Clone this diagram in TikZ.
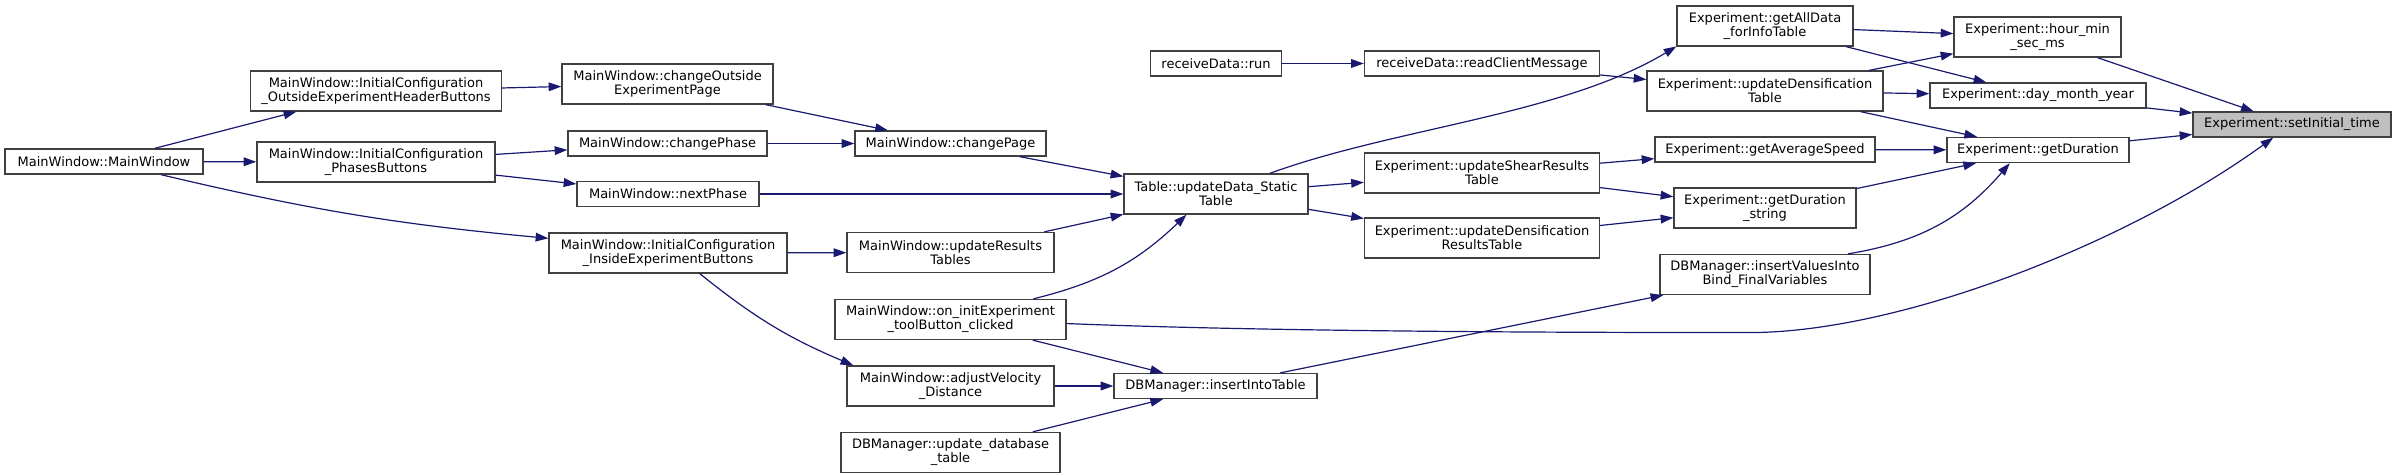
\documentclass[tikz,border=0pt]{standalone}
\usepackage{fontspec}
\setmainfont{DejaVu Sans}
\usetikzlibrary{arrows.meta}
\definecolor{EdgeBlue}{HTML}{191970}
\definecolor{BoxGray} {HTML}{404040}
\definecolor{HereGray}{HTML}{BFBFBF}
\newcommand{\callfont}{\fontsize{9.75}{10.5}\selectfont}
\tikzset{
  fn/.style={rectangle,draw=BoxGray,fill=white,line width=1pt,font=\callfont,
             minimum height=18.75pt,inner sep=1pt,align=center},
  fnb/.style={fn,minimum height=30pt},
  here/.style={fn,fill=HereGray},
  barr/.style={-{Triangle[length=9.5pt,width=6.5pt]},line width=0.9pt,color=EdgeBlue},
}
\begin{document}
\begin{tikzpicture}[x=0.75pt,y=0.75pt]
  \useasboundingbox (0,0) rectangle (2397,-475);

  % rank 1-3 : MainWindow
  \node[fn,minimum width=148.5pt]   (MW)    at (104,-161.5) {MainWindow::MainWindow};
  \node[fnb,minimum width=188.25pt] (ICOUT) at (376,-91)  {MainWindow::InitialConfiguration\\\_OutsideExperimentHeaderButtons};
  \node[fnb,minimum width=178.5pt]  (ICPH)  at (376,-162) {MainWindow::InitialConfiguration\\\_PhasesButtons};
  \node[fnb,minimum width=158.25pt] (CHOUT) at (667.5,-84)  {MainWindow::changeOutside\\ExperimentPage};
  \node[fn,minimum width=149.25pt]  (CHPH)  at (667.5,-143.5) {MainWindow::changePhase};
  \node[fn,minimum width=136.5pt]   (NXPH)  at (668,-194) {MainWindow::nextPhase};
  \node[fnb,minimum width=178.5pt]  (ICIN)  at (668,-253) {MainWindow::InitialConfiguration\\\_InsideExperimentButtons};

  % rank 4
  \node[fn,minimum width=143.25pt]  (CHPG)   at (950.5,-143.5) {MainWindow::changePage};
  \node[fnb,minimum width=155.25pt] (UPRES)  at (950.5,-252.5) {MainWindow::updateResults\\Tables};
  \node[fnb,minimum width=173.25pt] (ONINIT) at (950.5,-319.5) {MainWindow::on\_initExperiment\\\_toolButton\_clicked};
  \node[fnb,minimum width=155.25pt] (ADJV)   at (950.5,-386)   {MainWindow::adjustVelocity\\\_Distance};
  \node[fnb,minimum width=164.25pt] (UPDB)   at (950.5,-452.5) {DBManager::update\_database\\\_table};

  % rank 5
  \node[fn,minimum width=98.25pt]  (RDRUN)  at (1216,-63.5) {receiveData::run};
  \node[fnb,minimum width=138pt]   (TBL)    at (1216,-194)  {Table::updateData\_Static\\Table};
  \node[fn,minimum width=152.25pt] (INSTBL) at (1215.5,-386) {DBManager::insertIntoTable};

  % rank 6
  \node[fn,minimum width=176.25pt]  (RDMSG) at (1482,-63.5) {receiveData::readClientMessage};
  \node[fnb,minimum width=176.25pt] (UPSHR) at (1482,-173)  {Experiment::updateShearResults\\Table};
  \node[fnb,minimum width=176.25pt] (UPDRT) at (1482,-238)  {Experiment::updateDensification\\ResultsTable};

  % rank 7
  \node[fnb,minimum width=132pt]   (GETALL) at (1765,-26)    {Experiment::getAllData\\\_forInfoTable};
  \node[fnb,minimum width=177pt]   (UPDENS) at (1765,-91)    {Experiment::updateDensification\\Table};
  \node[fn,minimum width=165pt]    (GETAVG) at (1765,-149.5) {Experiment::getAverageSpeed};
  \node[fnb,minimum width=136.5pt] (GETDS)  at (1765,-208)   {Experiment::getDuration\\\_string};
  \node[fnb,minimum width=157.5pt] (INSVAL) at (1765,-274.5) {DBManager::insertValuesInto\\Bind\_FinalVariables};

  % rank 8-9
  \node[fnb,minimum width=125.25pt] (HMS)    at (2037.5,-37) {Experiment::hour\_min\\\_sec\_ms};
  \node[fn,minimum width=162pt]     (DMY)    at (2038,-95.5) {Experiment::day\_month\_year};
  \node[fn,minimum width=136.5pt]   (GETDUR) at (2038,-150)  {Experiment::getDuration};
  \node[here,minimum width=148.5pt] (SETT)   at (2292,-124.5) {Experiment::setInitial\_time};

  \draw[barr] (MW) -- (ICOUT);
  \draw[barr] (MW) -- (ICPH);
  \draw[barr] (MW.-13) to[bend right=4] (ICIN.173);
  \draw[barr] (ICOUT) -- (CHOUT);
  \draw[barr] (ICPH) -- (CHPH);
  \draw[barr] (ICPH) -- (NXPH);
  \draw[barr] (CHOUT) -- (CHPG);
  \draw[barr] (CHPH) -- (CHPG);
  \draw[barr] (CHPG) -- (TBL);
  \draw[barr] (NXPH) -- (TBL);
  \draw[barr] (ICIN) -- (UPRES);
  \draw[barr] (ICIN.-33) to[bend right=8] (ADJV.168);
  \draw[barr] (UPRES) -- (TBL);
  \draw[barr] (ONINIT.14) to[bend right=15] (TBL.215);
  \draw[barr] (ONINIT) -- (INSTBL);
  \draw[barr] (ADJV) -- (INSTBL);
  \draw[barr] (UPDB) -- (INSTBL);
  \draw[barr] (ONINIT.-2) .. controls +(200,-8) and +(-200,0) .. ++(683,-9)
                          .. controls +(150,0) and +(-146,-106) .. (SETT.215);
  \draw[barr] (INSTBL) -- (INSVAL);
  \draw[barr] (RDRUN) -- (RDMSG);
  \draw[barr] (RDMSG) -- (UPDENS);
  \draw[barr] (TBL.21) to[out=20,in=211,looseness=0.8] (GETALL.193);
  \draw[barr] (TBL) -- (UPSHR);
  \draw[barr] (TBL) -- (UPDRT);
  \draw[barr] (UPSHR) -- (GETAVG);
  \draw[barr] (UPSHR) -- (GETDS);
  \draw[barr] (UPDRT) -- (GETDS);
  \draw[barr] (GETALL) -- (HMS);
  \draw[barr] (GETALL) -- (DMY);
  \draw[barr] (UPDENS) -- (HMS);
  \draw[barr] (UPDENS) -- (DMY);
  \draw[barr] (UPDENS) -- (GETDUR);
  \draw[barr] (GETAVG) -- (GETDUR);
  \draw[barr] (GETDS) -- (GETDUR);
  \draw[barr] (INSVAL.14) to[bend right=20] (GETDUR.205);
  \draw[barr] (HMS) -- (SETT);
  \draw[barr] (DMY) -- (SETT);
  \draw[barr] (GETDUR) -- (SETT);

\end{tikzpicture}
\end{document}
